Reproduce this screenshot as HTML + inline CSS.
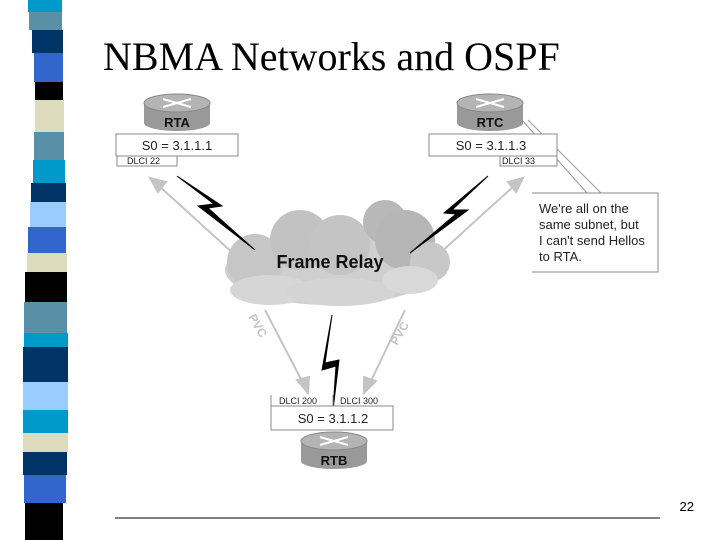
<!DOCTYPE html>
<html><head><style>
body{margin:0;width:720px;height:540px;background:#fff;overflow:hidden;position:relative;font-family:"Liberation Sans",sans-serif}
.t{position:absolute;left:103px;top:33px;font-family:"Liberation Serif",serif;font-size:40px;color:#000;white-space:nowrap}
</style></head><body>
<svg width="720" height="540" style="position:absolute;left:0;top:0">
<g>
<rect x="28" y="0" width="34" height="12" fill="#0099cc"/>
<rect x="29" y="12" width="33" height="18" fill="#5a8fa8"/>
<rect x="32" y="30" width="31" height="23" fill="#003366"/>
<rect x="34" y="53" width="29" height="29" fill="#3366cc"/>
<rect x="35" y="82" width="28" height="18" fill="#000"/>
<rect x="35" y="100" width="29" height="32" fill="#dcdcbc"/>
<rect x="34" y="132" width="30" height="28" fill="#5a8fa8"/>
<rect x="33" y="160" width="32" height="23" fill="#0099cc"/>
<rect x="31" y="183" width="35" height="19" fill="#003366"/>
<rect x="30" y="202" width="36" height="25" fill="#99ccff"/>
<rect x="28" y="227" width="38" height="26" fill="#3366cc"/>
<rect x="27" y="253" width="40" height="19" fill="#dcdcbc"/>
<rect x="25" y="272" width="42" height="30" fill="#000"/>
<rect x="24" y="302" width="43" height="31" fill="#5a8fa8"/>
<rect x="24" y="333" width="44" height="14" fill="#0099cc"/>
<rect x="23" y="347" width="45" height="35" fill="#003366"/>
<rect x="23" y="382" width="45" height="28" fill="#99ccff"/>
<rect x="23" y="410" width="45" height="23" fill="#0099cc"/>
<rect x="23" y="433" width="45" height="19" fill="#dcdcbc"/>
<rect x="23" y="452" width="44" height="23" fill="#003366"/>
<rect x="24" y="475" width="42" height="28" fill="#3366cc"/>
<rect x="25" y="503" width="38" height="37" fill="#000"/>
</g>
<g stroke="#c4c4c4" stroke-width="2" fill="#c4c4c4">
<line x1="235" y1="255" x2="158" y2="185"/><polygon points="150,178 166,182 158,192"/>
<line x1="440" y1="253" x2="515" y2="185"/><polygon points="523,178 508,182 516,192"/>
<line x1="265" y1="310" x2="303" y2="383"/><polygon points="308,393 297,380 309,377"/>
<line x1="405" y1="310" x2="370" y2="383"/><polygon points="364,393 364,377 376,381"/>
</g>
<g>
<ellipse cx="330" cy="270" rx="105" ry="35" fill="#cfcfcf"/>
<circle cx="255" cy="262" r="28" fill="#c6c6c6"/>
<circle cx="300" cy="240" r="30" fill="#c2c2c2"/>
<circle cx="340" cy="245" r="30" fill="#c4c4c4"/>
<circle cx="385" cy="222" r="22" fill="#b8b8b8"/>
<circle cx="405" cy="240" r="30" fill="#b6b6b6"/>
<circle cx="430" cy="262" r="20" fill="#c8c8c8"/>
<ellipse cx="270" cy="290" rx="40" ry="15" fill="#d6d6d6"/>
<ellipse cx="340" cy="292" rx="55" ry="14" fill="#d4d4d4"/>
<ellipse cx="410" cy="280" rx="28" ry="14" fill="#d8d8d8"/>
</g>
<text x="330" y="268" font-size="18" font-weight="bold" text-anchor="middle" fill="#111">Frame Relay</text>
<g fill="#c4c4c4" font-size="12" font-weight="bold">
<text transform="translate(248,317) rotate(60)">PVC</text>
<text transform="translate(397,346) rotate(-60)">PVC</text>
</g>
<g fill="#000" stroke="#000" stroke-width="1">
<polygon points="177,176 222,206 208,208 255,250 206,212 198,206 214,204"/>
<polygon points="488,176 444,213 456,214 410,253 460,216 468,210 452,210"/>
<polygon points="332,315 322,370 336,366 333,410 339,360 325,363"/>
</g>
<g stroke="#999" stroke-width="1" fill="none">
<line x1="522" y1="120" x2="587" y2="193"/><line x1="528" y1="120" x2="601" y2="193"/>
</g>
<g stroke="#888" fill="#fff" stroke-width="1">
<rect x="116" y="134" width="122" height="22"/>
<rect x="117" y="156" width="60" height="10"/>
<rect x="429" y="134" width="128" height="22"/>
<rect x="500" y="156" width="57" height="10"/>
<rect x="271" y="406" width="122" height="24"/>
<path d="M271,406 V395 M333,406 V395" />
<path d="M532,193 H658 V272 H532" />
</g>
<g font-size="13" fill="#222" text-anchor="middle">
<text x="177" y="150">S0 = 3.1.1.1</text>
<text x="491" y="150">S0 = 3.1.1.3</text>
<text x="333" y="423">S0 = 3.1.1.2</text>
</g>
<g font-size="9" fill="#222">
<text x="127" y="164">DLCI 22</text>
<text x="502" y="164">DLCI 33</text>
<text x="279" y="404">DLCI 200</text>
<text x="340" y="404">DLCI 300</text>
</g>
<g font-size="13" fill="#222">
<text x="539" y="213">We're all on the</text>
<text x="539" y="229">same subnet, but</text>
<text x="539" y="245">I can't send Hellos</text>
<text x="539" y="261">to RTA.</text>
</g>
<g>
<g transform="translate(177,0)">
<rect x="-33" y="103" width="66" height="20" fill="#999"/>
<ellipse cx="0" cy="123" rx="33" ry="8" fill="#999"/>
<ellipse cx="0" cy="103" rx="33" ry="9" fill="#b4b4b4" stroke="#888"/>
<path d="M-14,99 L14,107 M-14,107 L14,99" stroke="#fff" stroke-width="2"/>
<text x="0" y="127" font-size="13" font-weight="bold" text-anchor="middle" fill="#111">RTA</text>
</g>
<g transform="translate(490,0)">
<rect x="-33" y="103" width="66" height="20" fill="#999"/>
<ellipse cx="0" cy="123" rx="33" ry="8" fill="#999"/>
<ellipse cx="0" cy="103" rx="33" ry="9" fill="#b4b4b4" stroke="#888"/>
<path d="M-14,99 L14,107 M-14,107 L14,99" stroke="#fff" stroke-width="2"/>
<text x="0" y="127" font-size="13" font-weight="bold" text-anchor="middle" fill="#111">RTC</text>
</g>
<g transform="translate(334,338)">
<rect x="-33" y="103" width="66" height="20" fill="#999"/>
<ellipse cx="0" cy="123" rx="33" ry="8" fill="#999"/>
<ellipse cx="0" cy="103" rx="33" ry="9" fill="#b4b4b4" stroke="#888"/>
<path d="M-14,99 L14,107 M-14,107 L14,99" stroke="#fff" stroke-width="2"/>
<text x="0" y="127" font-size="13" font-weight="bold" text-anchor="middle" fill="#111">RTB</text>
</g>
</g>
<line x1="115" y1="518" x2="660" y2="518" stroke="#000" stroke-width="1"/>
<text x="694" y="511" font-size="13" text-anchor="end" fill="#000">22</text>
</svg>
<div class="t">NBMA Networks and OSPF</div>
</body></html>
